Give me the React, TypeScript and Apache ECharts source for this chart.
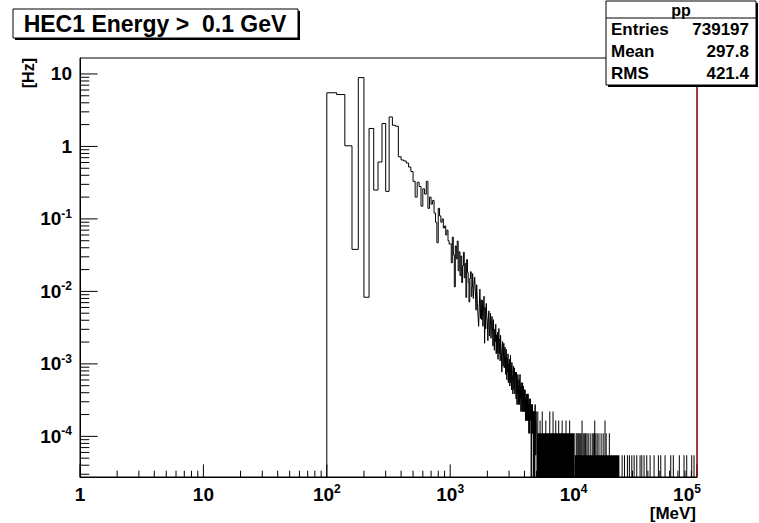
import React, { useEffect, useRef } from 'react';
import * as echarts from 'echarts';

// ---- axis ranges ----
const X_MIN = 1;
const X_MAX = 1e5;
const Y_MIN = 2.75e-5;
const Y_MAX = 16.6;

// ---- histogram binning ----
const HIST_START = 100; // MeV, first filled bin edge
const BIN_WIDTH = 20; // MeV
const HZ_PER_ENTRY = 5.5e-5; // rate of one entry in a bin

// bins 100 .. 1000 MeV, read in Hz
const headRates = [
  5.5, 5.2, 1.02, 0.038, 8.9, 0.0083, 1.77, 0.25, 0.61, 2.07,
  0.24, 2.55, 1.96, 1.9, 0.72, 0.65, 0.63, 0.59, 0.52, 0.45,
  0.33, 0.2, 0.32, 0.28, 0.15, 0.26, 0.22, 0.33, 0.14, 0.2,
  0.16, 0.18, 0.12, 0.09, 0.047, 0.14, 0.11, 0.09, 0.1, 0.075,
  0.08, 0.06, 0.07, 0.05, 0.045,
];

// bins 1000 .. 5000 MeV, read as entries
const MID_START = 1000;
const midCounts = [
  830, 450, 1020, 580, 210, 770, 510, 900, 350, 640,
  300, 560, 240, 410, 630, 280, 440, 150, 500, 330,
  240, 130, 275, 340, 155, 210, 320, 145, 220, 285,
  180, 100, 225, 125, 85, 60, 110, 195, 77, 140,
  74, 138, 60, 101, 156, 35, 110, 55, 124, 83,
  69, 38, 79, 98, 44, 60, 91, 41, 63, 82,
  60, 32, 74, 41, 28, 55, 37, 64, 25, 46,
  26, 50, 21, 36, 56, 25, 40, 20, 45, 30,
  26, 14, 30, 37, 17, 23, 35, 16, 24, 31,
  23, 13, 29, 16, 11, 22, 14, 25, 10, 18,
  11, 21, 9, 15, 24, 10, 17, 8, 19, 13,
  12, 7, 14, 17, 8, 11, 16, 7, 11, 14,
  12, 6, 14, 8, 5, 11, 7, 13, 5, 9,
  6, 11, 5, 8, 13, 6, 9, 4, 10, 7,
  7, 4, 8, 10, 4, 6, 9, 4, 6, 8,
  7, 4, 8, 5, 3, 6, 4, 7, 3, 5,
  4, 7, 3, 5, 7, 3, 5, 2, 6, 4,
  4, 2, 5, 6, 3, 4, 5, 0, 4, 5,
  4, 2, 5, 3, 2, 4, 0, 4, 1, 3,
  2, 4, 0, 3, 5, 2, 3, 1, 4, 2,
];

// dense tail: [from MeV, to MeV, entries] where bins alternate between 0 and that level
const tailSpans = [
  [5000, 10200, 2],
  [10200, 23500, 1],
];

// single protruding bins in the tail: [MeV, entries]
const tailStrokes = [
  [5080, 4], [5300, 3], [5520, 4], [5900, 3], [6350, 4], [6750, 4], [7100, 3],
  [7500, 3], [8000, 3], [8600, 3], [9200, 3], [11600, 3], [14700, 3], [17800, 3],
  [10400, 2], [10590, 2], [10800, 2], [11000, 2], [11200, 2], [11400, 2], [11850, 2],
  [12100, 2], [12400, 2], [12700, 2], [13010, 2], [13500, 2], [14010, 2], [14300, 2],
  [14600, 2], [15000, 2], [15380, 2], [15900, 2], [16560, 2], [17200, 2], [18190, 2],
  [19300, 2],
  [24500, 1], [25600, 1], [27040, 1], [28050, 1], [29350, 1], [30650, 1],
  [32200, 1], [34250, 1], [35370, 1], [36900, 1], [38800, 1], [41300, 1],
  [44480, 1], [48190, 1], [50380, 1], [54580, 1], [60690, 1], [63710, 1],
  [71230, 1], [77770, 1], [81800, 1], [89750, 1], [93720, 1],
];

// ---- texts ----
const titleText = 'HEC1 Energy >  0.1 GeV';
const statsName = 'pp';
const statsLabels = ['Entries', 'Mean', 'RMS'];
const statsValues = ['739197', '297.8', '421.4'];
const xTitle = '[MeV]';
const yTitle = '[Hz]';

const FONT = '"Liberation Sans", Arial, Helvetica, sans-serif';
const TICK_MULTS = [1, 2, 3, 4, 5, 6, 7, 8, 9];

function buildOutline() {
  const pts: number[][] = [[HIST_START, Y_MIN]];
  headRates.forEach((r, i) => {
    const lo = HIST_START + i * BIN_WIDTH;
    const v = Math.max(r, Y_MIN);
    pts.push([lo, v], [lo + BIN_WIDTH, v]);
  });
  midCounts.forEach((c, i) => {
    const lo = MID_START + i * BIN_WIDTH;
    const v = Math.max(c * HZ_PER_ENTRY, Y_MIN);
    pts.push([lo, v], [lo + BIN_WIDTH, v]);
  });
  return pts;
}

// kinds: 0 x minor, 1 x major, 2 y minor, 3 y major, 4 right frame edge
function buildTicks() {
  const data: number[][] = [];
  for (let d = 0; d <= 5; d++) {
    for (const m of TICK_MULTS) {
      const v = m * Math.pow(10, d);
      if (v <= X_MAX * 1.0001) data.push([v, Y_MIN, m === 1 ? 1 : 0]);
    }
  }
  for (let d = -5; d <= 1; d++) {
    for (const m of TICK_MULTS) {
      const v = m * Math.pow(10, d);
      if (v >= Y_MIN && v <= Y_MAX) data.push([X_MIN, v, m === 1 ? 3 : 2]);
    }
  }
  data.push([X_MAX, Y_MAX, 4]);
  return data;
}

function powLabel(v: number) {
  const e = Math.log10(v);
  const r = Math.round(e);
  if (Math.abs(e - r) > 1e-6) return '';
  if (r === 0) return '{b|1}';
  if (r === 1) return '{b|10}';
  if (r === 5) return `{b|10}{se|${r}}`;
  return `{b|10}{s|${r}}`;
}

const supStyle = { fontSize: 12, fontWeight: 'bold', fontFamily: FONT, lineHeight: 12, verticalAlign: 'top', color: '#000' };
const rich = {
  b: { fontSize: 19, fontWeight: 'bold', fontFamily: FONT, lineHeight: 22, color: '#000' },
  s: supStyle,
  se: { ...supStyle, padding: [0, 20, 0, 0] },
};

export default function App() {
  const ref = useRef<HTMLDivElement>(null);
  useEffect(() => {
    if (!ref.current) return;
    const chart = echarts.init(ref.current, undefined, { renderer: 'svg' });
    const tailData = (tailSpans as number[][]).concat(
      tailStrokes.map(([e, c]) => [e, e + BIN_WIDTH, c])
    );
    const textStyle = (extra: any) => ({ fill: '#000', fontFamily: FONT, fontWeight: 'bold', ...extra });
    const statsRowsY = [29, 51, 73];
    const graphics: any[] = [
      { type: 'rect', z: 100, shape: { x: 15, y: 11, width: 285, height: 29 }, style: { fill: '#000' } },
      { type: 'rect', z: 101, shape: { x: 13, y: 9, width: 285, height: 29 }, style: { fill: '#ffffff', stroke: '#000', lineWidth: 1 } },
      {
        type: 'text', z: 102, x: 155, y: 24,
        style: textStyle({ text: titleText, fontSize: 23, align: 'center', verticalAlign: 'middle', textAlign: 'center', textVerticalAlign: 'middle' }),
      },
      { type: 'rect', z: 100, shape: { x: 608, y: 3, width: 150, height: 84 }, style: { fill: '#000' } },
      { type: 'rect', z: 101, shape: { x: 606, y: 1, width: 150, height: 84 }, style: { fill: '#ffffff', stroke: '#000', lineWidth: 1 } },
      { type: 'line', z: 102, shape: { x1: 606, y1: 18, x2: 756, y2: 18 }, style: { stroke: '#000', lineWidth: 1 } },
      {
        type: 'text', z: 102, x: 681, y: 10,
        style: textStyle({ text: statsName, fontSize: 16, align: 'center', verticalAlign: 'middle', textAlign: 'center', textVerticalAlign: 'middle' }),
      },
      ...statsLabels.map((t, i) => ({
        type: 'text', z: 102, x: 611, y: statsRowsY[i],
        style: textStyle({ text: t, fontSize: 17, align: 'left', verticalAlign: 'middle', textAlign: 'left', textVerticalAlign: 'middle' }),
      })),
      ...statsValues.map((t, i) => ({
        type: 'text', z: 102, x: 749, y: statsRowsY[i],
        style: textStyle({ text: t, fontSize: 17, align: 'right', verticalAlign: 'middle', textAlign: 'right', textVerticalAlign: 'middle' }),
      })),
      {
        type: 'text', z: 102, x: 696, y: 513,
        style: textStyle({ text: xTitle, fontSize: 17, align: 'right', verticalAlign: 'middle', textAlign: 'right', textVerticalAlign: 'middle' }),
      },
      {
        type: 'text', z: 102, x: 28, y: 58, rotation: Math.PI / 2,
        style: textStyle({ text: yTitle, fontSize: 16, align: 'right', verticalAlign: 'middle', textAlign: 'right', textVerticalAlign: 'middle' }),
      },
    ];

    chart.setOption({
      animation: false,
      backgroundColor: '#ffffff',
      grid: { left: 80, right: 62, top: 58, bottom: 46, show: true, borderColor: '#000', borderWidth: 1, backgroundColor: 'transparent' },
      xAxis: {
        type: 'log', logBase: 10, min: X_MIN, max: X_MAX,
        axisLine: { show: true, onZero: false, lineStyle: { color: '#000', width: 1 } },
        axisTick: { show: false },
        splitLine: { show: false },
        axisLabel: { margin: 6, formatter: powLabel, rich, showMinLabel: true, showMaxLabel: true, hideOverlap: false },
      },
      yAxis: {
        type: 'log', logBase: 10, min: Y_MIN, max: Y_MAX,
        axisLine: { show: true, onZero: false, lineStyle: { color: '#000', width: 1 } },
        axisTick: { show: false },
        splitLine: { show: false },
        axisLabel: { margin: 8, formatter: powLabel, rich, hideOverlap: false },
      },
      series: [
        {
          type: 'line', data: buildOutline(), showSymbol: false, symbol: 'none', silent: true,
          lineStyle: { color: '#000', width: 1 }, z: 3,
        },
        {
          type: 'custom', data: tailData, silent: true, z: 3,
          encode: { x: [0, 1], y: 2 },
          renderItem: (_p: any, api: any) => {
            const e0 = api.value(0);
            const e1 = api.value(1);
            const c = api.value(2);
            const top = api.coord([e0, c * HZ_PER_ENTRY]);
            const bot = api.coord([e1, Y_MIN]);
            const w = Math.max(bot[0] - top[0], 1);
            return { type: 'rect', shape: { x: top[0], y: top[1], width: w, height: bot[1] - top[1] }, style: { fill: '#000' } };
          },
        },
        {
          type: 'custom', data: buildTicks(), silent: true, clip: false, z: 5,
          encode: { x: 0, y: 1 },
          renderItem: (_p: any, api: any) => {
            const kind = api.value(2);
            const p = api.coord([api.value(0), api.value(1)]);
            if (kind === 4) {
              const b = api.coord([api.value(0), Y_MIN]);
              return { type: 'line', shape: { x1: p[0], y1: p[1], x2: b[0], y2: b[1] }, style: { stroke: '#b00000', lineWidth: 1 } };
            }
            let shape;
            if (kind < 2) {
              const len = kind === 1 ? 12.6 : 6.3;
              shape = { x1: p[0], y1: p[1], x2: p[0], y2: p[1] - len };
            } else {
              const len = kind === 3 ? 17.6 : 9.3;
              shape = { x1: p[0], y1: p[1], x2: p[0] + len, y2: p[1] };
            }
            return { type: 'line', shape, style: { stroke: '#000', lineWidth: 1 } };
          },
        },
      ],
      graphic: graphics,
    });
    return () => chart.dispose();
  }, []);
  return <div ref={ref} style={{ position: 'absolute', left: 0, top: 0, width: 759, height: 523 }} />;
}
